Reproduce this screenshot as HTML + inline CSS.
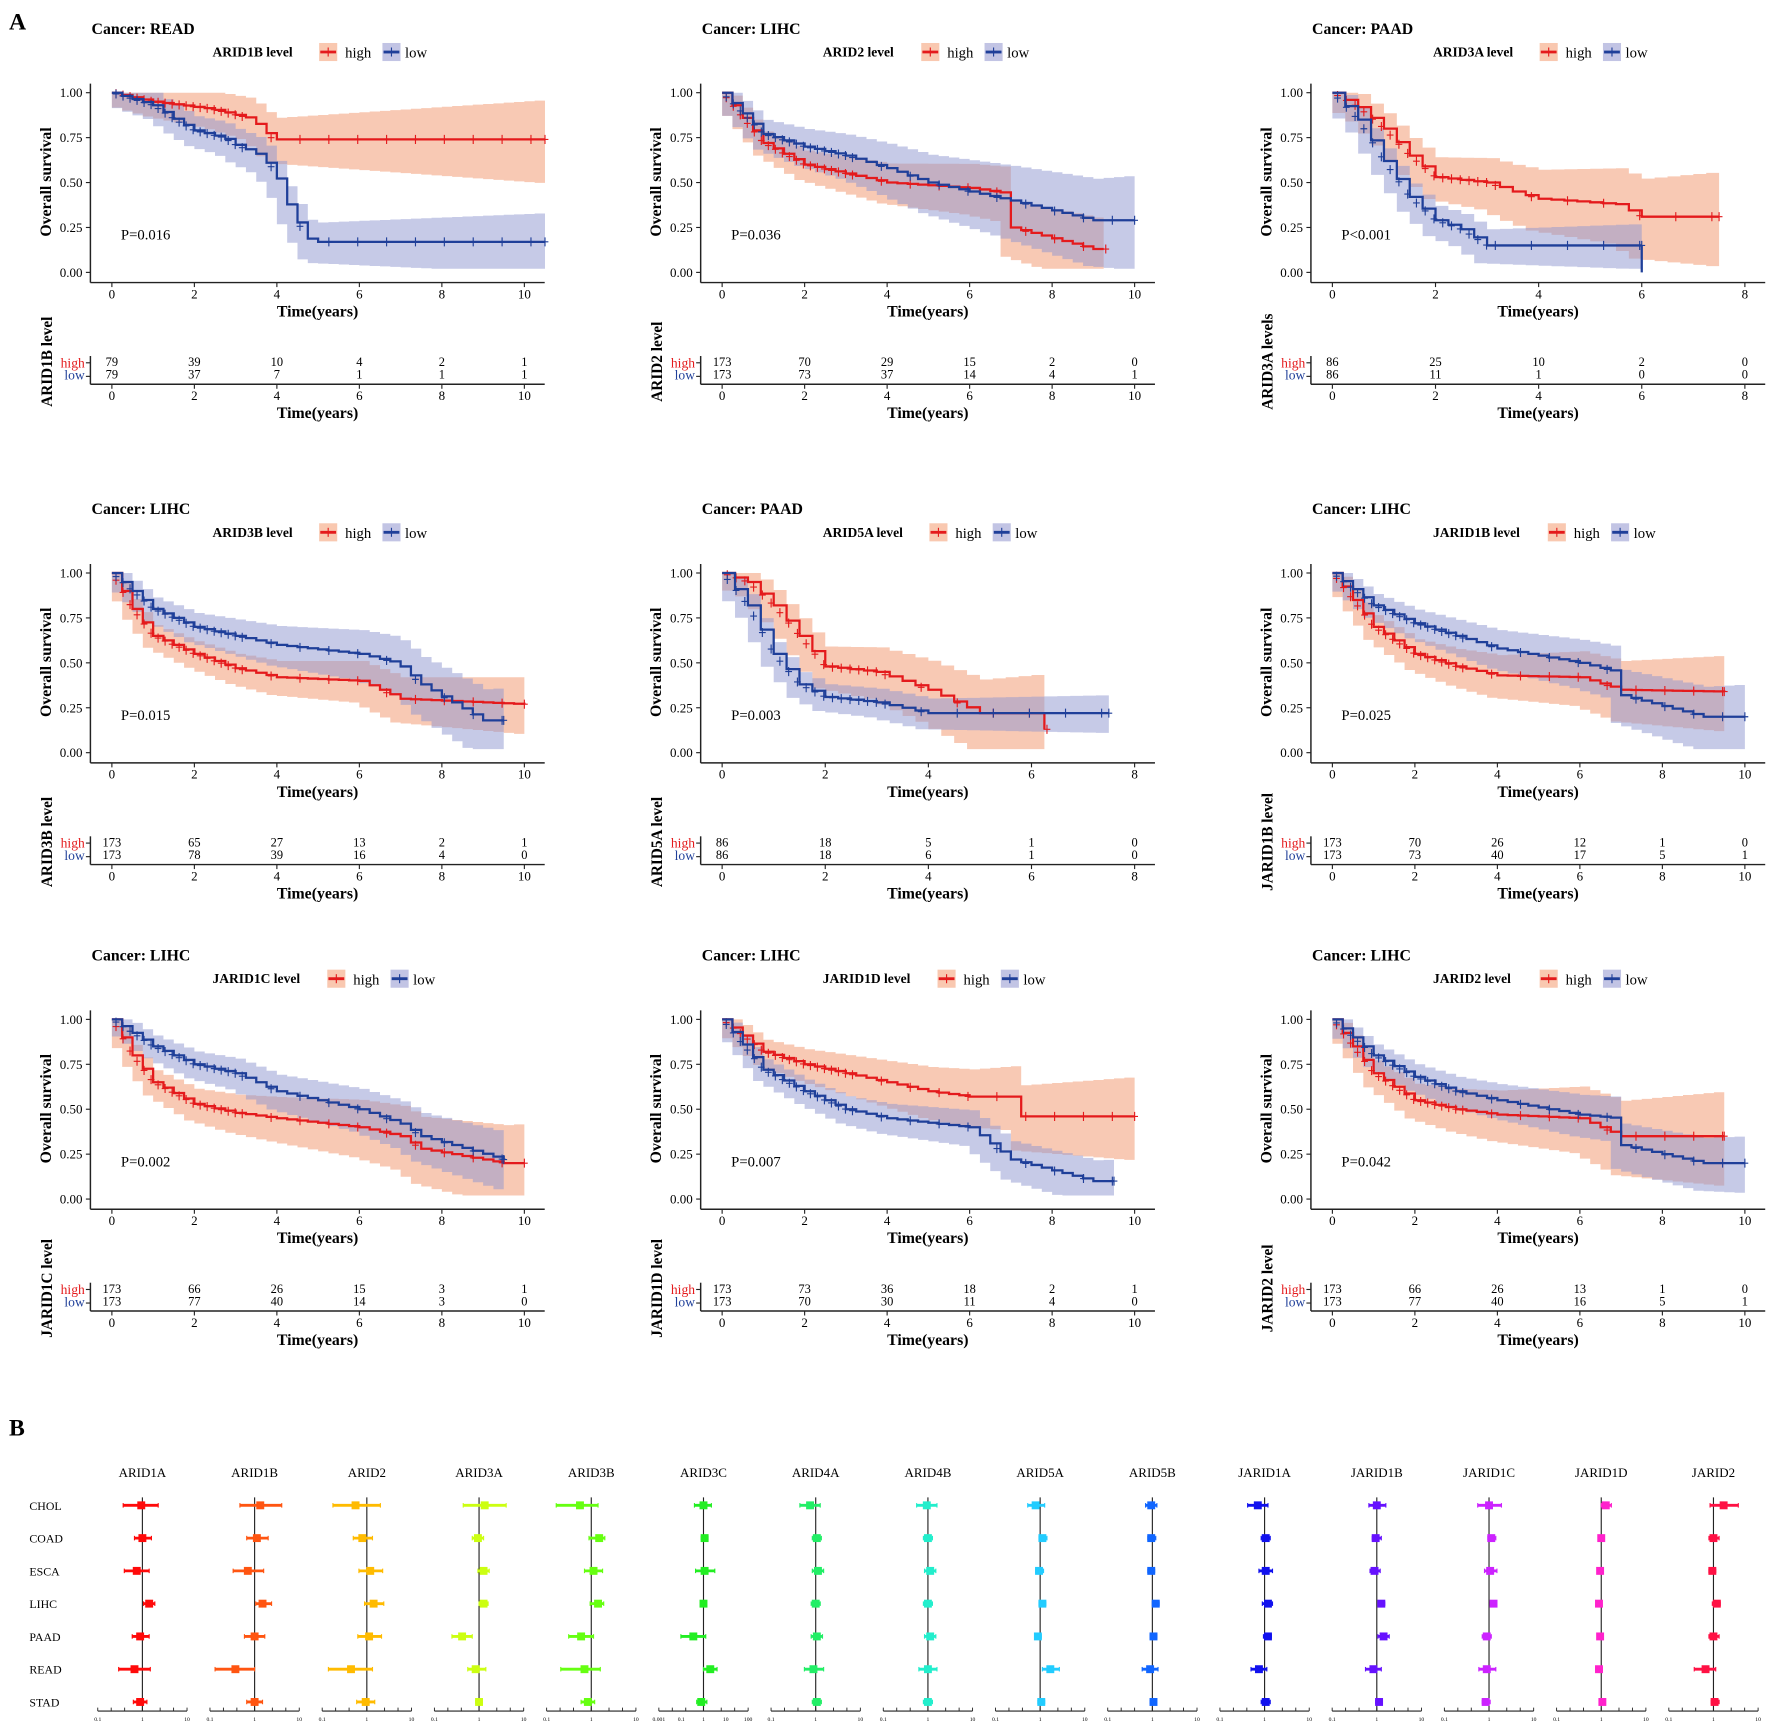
<!DOCTYPE html>
<html><head><meta charset="utf-8">
<style>
html,body{margin:0;padding:0;background:#fff;}
svg{display:block;}
text{font-family:"Liberation Serif",serif;}
.b{font-weight:bold;}
</style></head>
<body>
<svg id="s" width="1772" height="1728" viewBox="0 0 1568 1529" xmlns="http://www.w3.org/2000/svg">
<rect width="1568" height="1529" fill="#fff"/>
<text x="8" y="26" font-family="Liberation Sans,sans-serif" font-weight="bold" font-size="21">A</text>
<text x="8" y="1270" font-family="Liberation Sans,sans-serif" font-weight="bold" font-size="21">B</text>
<g id="g"></g>
</svg>
<script>
var out=[];
function T(x,y,s,o){o=o||{};out.push('<text x="'+x+'" y="'+y+'" font-size="'+(o.fs||12)+'"'+(o.b?' font-weight="bold"':'')+(o.a?' text-anchor="'+o.a+'"':'')+(o.c?' fill="'+o.c+'"':'')+(o.r?' transform="rotate(-90 '+x+' '+y+')"':'')+'>'+s+'</text>');}
function L(x1,y1,x2,y2,c,w){out.push('<line x1="'+x1+'" y1="'+y1+'" x2="'+x2+'" y2="'+y2+'" stroke="'+(c||'#222')+'" stroke-width="'+(w||1)+'"/>');}
function interp(a,t){if(t<=a[0][0])return a[0][1];for(var i=1;i<a.length;i++){if(t<=a[i][0]){var p=a[i-1],q=a[i];return p[1]+(q[1]-p[1])*(t-p[0])/(q[0]-p[0]);}}return a[a.length-1][1];}
var panels=[
{c:'READ',g:'ARID1B',lvl:'ARID1B level',xmax:10.5,tm:10,P:'P=0.016',
 h:[[0,1],[1,.95],[2.4,.91],[3.3,.86],[3.6,.81],[3.9,.74],[10.5,.74]],hend:10.5,
 l:[[0,1],[1,.93],[1.6,.84],[2,.79],[2.7,.75],[3,.71],[3.5,.66],[3.9,.58],[4.3,.35],[4.8,.17],[10.5,.17]],lend:10.5,
 hb:[.06,.22],lb:[.06,.16],rh:[79,39,10,4,2,1],rl:[79,37,7,1,1,1]},
{c:'LIHC',g:'ARID2',lvl:'ARID2 level',xmax:10.3,tm:10,P:'P=0.036',
 h:[[0,1],[1,.72],[2,.6],[3,.55],[4,.5],[6,.47],[6.9,.44],[7,.25],[9,.13],[9.3,.13]],hend:9.3,
 l:[[0,1],[1,.77],[2,.7],[3,.65],[4,.58],[5,.5],[6,.45],[7,.4],[9,.29],[10,.29]],lend:10,
 hb:[.05,.18],lb:[.06,.25],rh:[173,70,29,15,2,0],rl:[173,73,37,14,4,1]},
{c:'PAAD',g:'ARID3A',lvl:'ARID3A level',xmax:8,tm:8,P:'P&lt;0.001',
 h:[[0,1],[.5,.92],[1,.8],[1.5,.65],[2,.53],[3,.5],[3.5,.45],[4,.41],[5.5,.38],[6,.31],[7.5,.31]],hend:7.5,
 l:[[0,1],[.5,.85],[1,.62],[1.5,.42],[2,.29],[2.5,.24],[3,.15],[6,.15]],lend:6,
 hb:[.06,.25],lb:[.06,.12],rh:[86,25,10,2,0],rl:[86,11,1,0,0],drop:true,lab:'ARID3A levels'},
{c:'LIHC',g:'ARID3B',lvl:'ARID3B level',xmax:10.3,tm:10,P:'P=0.015',
 h:[[0,1],[.5,.8],[1,.65],[2,.55],[3,.47],[4,.42],[6,.4],[7,.3],[10,.27]],hend:10,
 l:[[0,1],[1,.8],[2,.7],[3,.65],[4,.6],[6,.55],[6.9,.5],[7.5,.38],[9,.18],[9.5,.18]],lend:9.5,
 hb:[.05,.15],lb:[.05,.18],rh:[173,65,27,13,2,1],rl:[173,78,39,16,4,0]},
{c:'PAAD',g:'ARID5A',lvl:'ARID5A level',xmax:8,tm:8,P:'P=0.003',
 h:[[0,1],[.5,.95],[1,.82],[1.5,.65],[2,.48],[3,.45],[4,.35],[5,.22],[6,.22],[6.2,.13],[6.3,.13]],hend:6.3,
 l:[[0,1],[.5,.82],[1,.55],[1.5,.38],[2,.31],[3,.28],[4,.22],[7.5,.22]],lend:7.5,
 hb:[.06,.22],lb:[.06,.1],rh:[86,18,5,1,0],rl:[86,18,6,1,0]},
{c:'LIHC',g:'JARID1B',lvl:'JARID1B level',xmax:10.3,tm:10,P:'P=0.025',
 h:[[0,1],[1,.7],[2,.55],[3,.48],[4,.43],[6,.42],[7,.35],[9.5,.34]],hend:9.5,
 l:[[0,1],[1,.82],[2,.72],[3,.65],[4,.58],[6,.5],[6.9,.45],[7,.32],[9,.2],[10,.2]],lend:10,
 hb:[.05,.2],lb:[.05,.18],rh:[173,70,26,12,1,0],rl:[173,73,40,17,5,1]},
{c:'LIHC',g:'JARID1C',lvl:'JARID1C level',xmax:10.3,tm:10,P:'P=0.002',
 h:[[0,1],[.5,.8],[1,.65],[2,.53],[3,.48],[4,.45],[6,.4],[7,.35],[7.5,.28],[9.5,.2],[10,.2]],hend:10,
 l:[[0,1],[1,.85],[2,.75],[3,.7],[4,.6],[6,.5],[7,.42],[7.5,.35],[9.5,.22]],lend:9.5,
 hb:[.05,.22],lb:[.05,.15],rh:[173,66,26,15,3,1],rl:[173,77,40,14,3,0]},
{c:'LIHC',g:'JARID1D',lvl:'JARID1D level',xmax:10.3,tm:10,P:'P=0.007',
 h:[[0,1],[1,.82],[2,.75],[3,.7],[4,.65],[5,.6],[6,.57],[7,.57],[7.01,.46],[10,.46]],hend:10,
 l:[[0,1],[1,.72],[2,.6],[3,.5],[4,.45],[6,.4],[7,.22],[9,.1],[9.5,.1]],lend:9.5,
 hb:[.05,.22],lb:[.05,.12],rh:[173,73,36,18,2,1],rl:[173,70,30,11,4,0]},
{c:'LIHC',g:'JARID2',lvl:'JARID2 level',xmax:10.3,tm:10,P:'P=0.042',
 h:[[0,1],[1,.7],[2,.55],[3,.5],[4,.47],[6,.45],[7,.35],[9.5,.35]],hend:9.5,
 l:[[0,1],[1,.8],[2,.68],[3,.6],[4,.55],[6,.47],[6.9,.45],[7,.3],[9,.2],[10,.2]],lend:10,
 hb:[.05,.25],lb:[.05,.15],rh:[173,66,26,13,1,0],rl:[173,77,40,16,5,1]}
];
var cols=[0,540,1080],rows=[0,425,820];
panels.forEach(function(p,i){
 var ox=cols[i%3],oy=rows[Math.floor(i/3)];
 var x0=ox+99,x1=ox+464,sc=(x1-x0)/(p.tm);
 var X=function(t){return x0+t*sc;},Y=function(s){return oy+241-s*159;};
 T(ox+81,oy+30,'Cancer: '+p.c,{b:1,fs:14});
 T(ox+188,oy+50,p.lvl,{b:1,fs:12});
 var lw=p.lvl.length*7.2;var lx=ox+188+lw+8;
 out.push('<rect x="'+lx+'" y="'+(oy+38)+'" width="16" height="16" fill="#f9c8b0"/>');L(lx+1,oy+46,lx+15,oy+46,'#e41a1c',2.5);L(lx+8,oy+42,lx+8,oy+50,'#e41a1c',1);
 T(lx+23,oy+51,'high',{fs:13});
 var lx2=lx+56;
 out.push('<rect x="'+lx2+'" y="'+(oy+38)+'" width="16" height="16" fill="#c2c4e4"/>');L(lx2+1,oy+46,lx2+15,oy+46,'#1f3f99',2.5);L(lx2+8,oy+42,lx2+8,oy+50,'#1f3f99',1);
 T(lx2+20,oy+51,'low',{fs:13});
 // bands
 [['h',p.hb,'#f4a582',0.6,p.hend],['l',p.lb,'#8e95d0',0.5,p.lend]].forEach(function(b){
  var a=p[b[0]],end=b[4],up=[],dn=[];
  for(var t=0;t<=end+1e-6;t+=0.25){var s=interp(a,t),d=b[1][0]+(b[1][1]-b[1][0])*t/end;
   var u=Math.min(1,s+d),w=Math.max(0.02,s-d*1.1);up.push([t,u]);dn.push([t,w]);}
  var path='M'+X(0)+' '+Y(up[0][1]);
  for(var k=1;k<up.length;k++){path+=' H'+X(up[k][0])+' V'+Y(up[k][1]);}
  for(var k=dn.length-1;k>=1;k--){path+=' V'+Y(dn[k][1])+' H'+X(dn[k-1][0]);}
  path+=' V'+Y(dn[0][1])+'Z';
  out.push('<path d="'+path+'" fill="'+b[2]+'" fill-opacity="'+b[3]+'"/>');
 });
 [['h','#e41a1c',p.hend],['l','#1f3f99',p.lend]].forEach(function(b){
  var a=p[b[0]],end=b[2],path='M'+X(0)+' '+Y(1),cens='';
  for(var t=0.25;t<=end+1e-6;t+=0.25){path+=' H'+X(t)+' V'+Y(interp(a,t));}
  out.push('<path d="'+path+'" fill="none" stroke="'+b[1]+'" stroke-width="2"/>');
  for(var t=0.1;t<end;t+=(t<3?0.17:0.7)){var xx=X(t),yy=Y(interp(a,t));cens+='M'+(xx-3)+' '+yy+'h6M'+xx+' '+(yy-4)+'v8';}
  cens+='M'+(X(end)-3)+' '+Y(interp(a,end))+'h6M'+X(end)+' '+(Y(interp(a,end))-4)+'v8';
  out.push('<path d="'+cens+'" stroke="'+b[1]+'" stroke-width="1"/>');
 });
 if(p.drop)L(X(p.lend),Y(.15),X(p.lend),Y(0),'#1f3f99',2);
 // axes
 L(ox+80,oy+74,ox+80,oy+250,'#222',1.3);L(ox+80,oy+250,ox+482,oy+250,'#222',1.3);
 ['1.00','0.75','0.50','0.25','0.00'].forEach(function(s,k){var y=Y(1-k*.25);L(ox+76,y,ox+80,y);T(ox+73,y+4,s,{a:'end',fs:11.5});});
 var ticks=p.tm==8?[0,2,4,6,8]:[0,2,4,6,8,10];
 ticks.forEach(function(t){L(X(t),oy+250,X(t),oy+254);T(X(t),oy+264,t,{a:'middle',fs:11.5});});
 T(ox+281,oy+280,'Time(years)',{a:'middle',b:1,fs:14});
 T(ox+45,oy+161,'Overall survival',{a:'middle',b:1,fs:14,r:1});
 T(ox+107,oy+212,p.P,{fs:13});
 // risk table
 L(ox+80,oy+315,ox+80,oy+340,'#222',1.3);L(ox+80,oy+340,ox+482,oy+340,'#222',1.3);
 L(ox+76,oy+321,ox+80,oy+321);L(ox+76,oy+333,ox+80,oy+333);
 T(ox+75,oy+325,'high',{a:'end',c:'#e41a1c',fs:12});T(ox+75,oy+336,'low',{a:'end',c:'#1f3f99',fs:12});
 ticks.forEach(function(t,k){T(X(t),oy+324,p.rh[k],{a:'middle',fs:11});T(X(t),oy+335,p.rl[k],{a:'middle',fs:11});
  L(X(t),oy+340,X(t),oy+344);T(X(t),oy+354,t,{a:'middle',fs:11.5});});
 T(ox+281,oy+370,'Time(years)',{a:'middle',b:1,fs:14});
 T(ox+46,oy+320,p.lab||(p.g+' level'),{a:'middle',b:1,fs:13.5,r:1});
});
// forest plots
var names=['ARID1A','ARID1B','ARID2','ARID3A','ARID3B','ARID3C','ARID4A','ARID4B','ARID5A','ARID5B','JARID1A','JARID1B','JARID1C','JARID1D','JARID2'];
var colors=['#ff0a0a','#ff5511','#ffbb00','#ccff11','#66ff11','#22ee22','#22ee66','#22eecc','#22ccff','#1166ff','#1111ee','#6611ff','#cc22ff','#ff22cc','#ff1144'];
var cats=['CHOL','COAD','ESCA','LIHC','PAAD','READ','STAD'];
var D=[
[[-1,-17,14],[0,-7,8],[-5,-16,6],[6,1,11],[-2,-9,6],[-7,-21,7],[-2,-8,4]],
[[5,-13,24],[2,-7,12],[-6,-19,8],[7,1,15],[0,-9,9],[-17,-35,0],[0,-7,7]],
[[-10,-30,12],[-4,-12,5],[3,-7,14],[6,-2,15],[2,-8,13],[-14,-34,5],[-1,-9,7]],
[[5,-14,24],[-1,-6,4],[4,-1,9],[4,0,8],[-15,-24,-6],[-3,-10,6],[0,-3,3]],
[[-10,-31,6],[7,-2,12],[2,-6,10],[6,-1,11],[-9,-20,2],[-6,-27,8],[-3,-9,3]],
[[0,-8,7],[1,-2,4],[1,-7,10],[0,-1,1],[-9,-20,2],[6,0,12],[-2,-6,3]],
[[-5,-14,4],[1,-3,5],[2,-3,7],[0,-4,4],[1,-4,6],[-2,-10,7],[1,-3,5]],
[[-1,-10,8],[0,-4,4],[2,-3,7],[0,-4,4],[2,-3,7],[0,-8,8],[0,-4,4]],
[[-4,-11,4],[2,-1,6],[-1,-4,3],[2,-1,5],[-2,-4,1],[9,2,17],[1,-2,4]],
[[-1,-6,4],[-1,-4,3],[-1,-4,2],[3,0,6],[1,-2,4],[-2,-9,5],[1,-2,3]],
[[-6,-15,3],[1,-3,5],[1,-5,7],[3,-2,7],[3,-1,6],[-5,-12,2],[1,-3,5]],
[[0,-7,8],[-1,-4,4],[-2,-6,3],[4,1,7],[6,1,11],[-3,-10,4],[2,-1,5]],
[[0,-10,11],[2,-1,6],[1,-4,7],[4,1,7],[-2,-6,2],[-2,-9,6],[-3,-6,1]],
[[4,0,9],[0,-2,2],[-1,-2,1],[-2,-4,0],[-1,-2,1],[-2,-5,1],[1,-1,3]],
[[9,-3,22],[0,-4,5],[-1,-4,2],[3,-1,6],[0,-4,5],[-7,-17,2],[1,-2,5]]
];
var rowY=[1332,1361,1390,1419,1448,1477,1506];
cats.forEach(function(c,k){T(26,rowY[k]+4,c,{fs:10.5});});
names.forEach(function(n,i){
 var cx=126+i*99.3,col=colors[i];
 T(cx,1307,n,{a:'middle',fs:11.5});
 L(cx,1325,cx,1514,'#222',1);
 L(cx-39.5,1514,cx+39.5,1514,'#222',1);
 var tk=[-39.5,-27.6,-15.7,0,15.7,27.6,39.5];
 tk.forEach(function(t){L(cx+t,1511,cx+t,1514,'#222',0.8);});
 var lab=i==5?['0.001','0.1','1','10','100']:['0.1','','','1','','','10'];
 if(i==5){[-39.5,-19.7,0,19.7,39.5].forEach(function(t,k){T(cx+t,1523,lab[k],{a:'middle',fs:5});});}
 else{T(cx-39.5,1523,'0.1',{a:'middle',fs:5});T(cx,1523,'1',{a:'middle',fs:5});T(cx+39.5,1523,'10',{a:'middle',fs:5});}
 D[i].forEach(function(d,k){var y=rowY[k];
  L(cx+d[1],y,cx+d[2],y,col,2.5);L(cx+d[1],y-2,cx+d[1],y+2,col,1);L(cx+d[2],y-2,cx+d[2],y+2,col,1);
  out.push('<rect x="'+(cx+d[0]-3.5)+'" y="'+(y-3.5)+'" width="7" height="7" fill="'+col+'"/>');});
});
document.getElementById('g').innerHTML=out.join('');
</script>
</body></html>
